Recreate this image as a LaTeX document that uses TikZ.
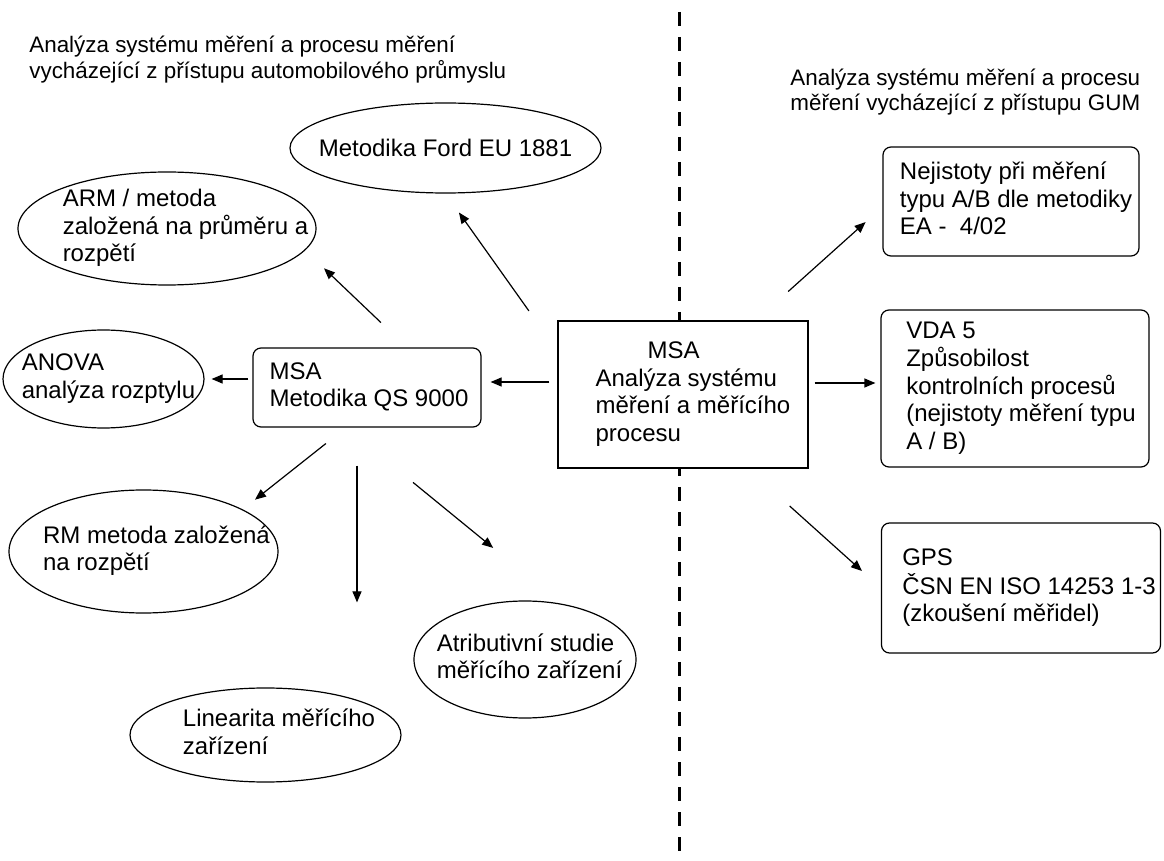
\documentclass[tikz,border=0pt]{standalone}
\usepackage{fontspec}
\setmainfont{Liberation Sans}
\usetikzlibrary{arrows.meta,shapes.geometric,calc}
% left-aligned lines, moved right inside their shape
\newcommand{\nudged}[2]{\hspace*{#1}\begin{tabular}{@{}l@{}}#2\end{tabular}}

\begin{document}
\begin{tikzpicture}[x=0.5pt, y=-0.5pt,
  oval/.style={ellipse, draw=black, line width=0.6pt, inner xsep=-30pt, inner ysep=-4pt,
               font=\fontsize{12}{13.8}\selectfont},
  rbox/.style={draw=black, fill=white, rounded corners=4pt, line width=0.6pt,
               inner xsep=1pt, font=\fontsize{12}{13.8}\selectfont},
  sbox/.style={rbox, sharp corners},
  head/.style={anchor=west, align=left, inner sep=0pt, font=\fontsize{11.2}{12.9}\selectfont},
  arr/.style={-{Triangle[length=5.5pt,width=4.5pt]}, line width=0.6pt},
  divider/.style={line width=1.5pt, dash pattern=on 7pt off 5.5pt}
]
  \fill[white] (0,0) rectangle (1164,861);
  \useasboundingbox (0,0) rectangle (1164,861);

  % dividing line between the two approaches
  \draw[divider] (679,12) -- (679,861);

  \node[head] (lefthead) at (29,59.5)
    {Analýza systému měření a procesu měření\\vycházející z přístupu automobilového průmyslu};
  \node[head] (righthead) at (790,92)
    {Analýza systému měření a procesu\\měření vycházející z přístupu GUM};

  % automotive branch
  \node[oval, minimum width=155.5pt, minimum height=45pt] (ford) at (445.5,148) {Metodika Ford EU 1881};
  \node[oval, minimum width=149pt, minimum height=56.5pt] (arm) at (167,228.5)
    {\nudged{18.5pt}{ARM / metoda\\založená na průměru a\\rozpětí}};
  \node[oval, minimum width=100.5pt, minimum height=49pt] (anova) at (103.5,379)
    {\nudged{5pt}{ANOVA\\analýza rozptylu}};
  \node[rbox, minimum width=114pt, minimum height=39.5pt] (qs) at (367,387.5)
    {\nudged{2pt}{MSA\\Metodika QS 9000}};
  \node[sbox, minimum width=125pt, minimum height=73.5pt] (msa) at (683,394.5)
    {\nudged{10pt}{\hspace*{26pt}MSA\\Analýza systému\\měření a měřícího\\procesu}};
  \node[oval, minimum width=134.5pt, minimum height=61.5pt] (rm) at (143.5,551.5)
    {\nudged{13pt}{RM metoda založená\\na rozpětí}};
  \node[oval, minimum width=111pt, minimum height=58.5pt] (attr) at (525,659.5)
    {\nudged{4.5pt}{Atributivní studie\\měřícího zařízení}};
  \node[oval, minimum width=135.5pt, minimum height=47pt] (lin) at (265.5,735)
    {\nudged{13.5pt}{Linearita měřícího\\zařízení}};

  % GUM branch
  \node[rbox, minimum width=128pt, minimum height=54.5pt] (nej) at (1011,201.5)
    {\nudged{5pt}{Nejistoty při měření\\typu A/B dle metodiky\\EA -\ \ 4/02}};
  \node[rbox, minimum width=134pt, minimum height=78.5pt] (vda) at (1015,388.5)
    {\nudged{6pt}{VDA 5\\Způsobilost\\kontrolních procesů\\(nejistoty měření typu\\A / B)}};
  \node[rbox, minimum width=139.5pt, minimum height=65pt] (gps) at (1021,588)
    {\nudged{8pt}{GPS\\ČSN EN ISO 14253 1-3\\(zkoušení měřidel)}};

  \draw[arr, shorten <=21.6pt, shorten >=11.3pt] ([xshift=36.5pt]msa.north) -- ([yshift=-2.75pt]nej.west);
  \draw[arr, shorten <=3pt, shorten >=2.5pt] ([yshift=5.75pt]msa.east) -- ([yshift=5.75pt]msa.east -| vda.west);
  \draw[arr, shorten <=28pt, shorten >=12.7pt] ([xshift=32.5pt]msa.south) -- (gps.west);
  \draw[arr, shorten <=4pt, shorten >=4.5pt] ([yshift=6.25pt]msa.west) -- ([yshift=6.25pt]msa.west -| qs.east);
  \draw[arr, shorten <=24.6pt, shorten >=11.6pt] ([yshift=21.75pt]msa.west) -- (ford.south);
  \draw[arr, shorten <=2pt, shorten >=3.5pt] ([yshift=4.25pt]qs.west) -- (anova.east);
  \draw[arr, shorten <=18pt, shorten >=13pt] ([xshift=20pt]qs.north) -- (arm.-9);
  \draw[arr, shorten <=12.8pt, shorten >=7.8pt] ([xshift=-10.5pt]qs.south) -- (rm.23);
  \draw[arr, shorten <=19pt, shorten >=42.5pt] ([xshift=-5pt]qs.south) -- ([xshift=-5pt]qs.south |- lin.north);
  \draw[arr, shorten <=43.3pt, shorten >=44pt] ([xshift=-10.5pt]qs.south) -- (attr.57);

\end{tikzpicture}
\end{document}
